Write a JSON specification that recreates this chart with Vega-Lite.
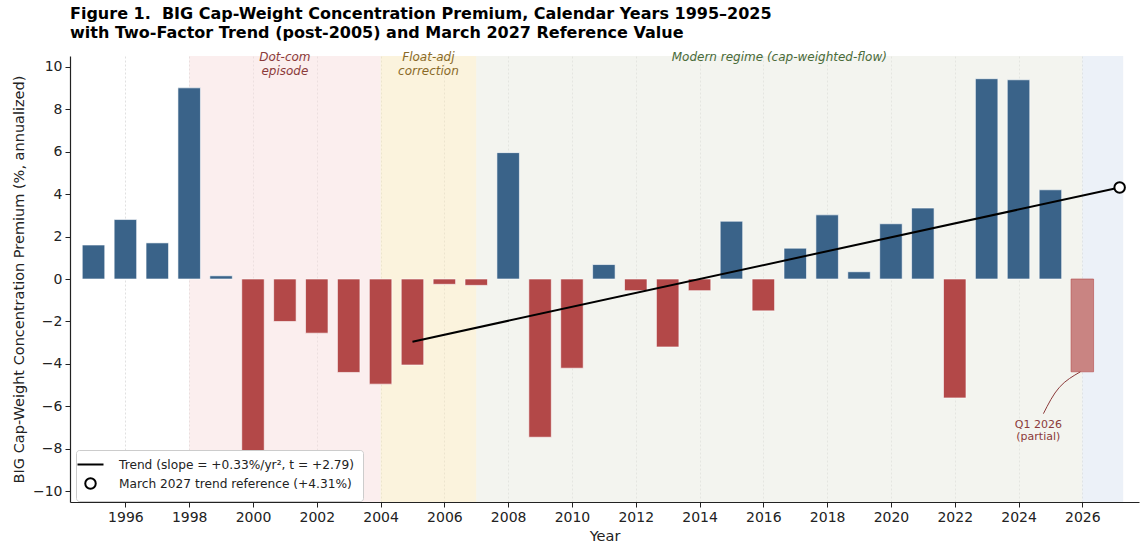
{
  "$schema": "https://vega.github.io/schema/vega-lite/v6.json",
  "width": 1069,
  "height": 446,
  "autosize": {"type": "none"},
  "padding": {"left": 70, "top": 56, "right": 9, "bottom": 53},
  "background": "white",
  "title": {
    "text": ["Figure 1.\u00a0 BIG Cap-Weight Concentration Premium, Calendar Years 1995\u20132025", "with Two-Factor Trend (post-2005) and March 2027 Reference Value"],
    "anchor": "start",
    "frame": "group",
    "font": "DejaVu Sans",
    "fontSize": 16,
    "fontWeight": "bold",
    "color": "#000000",
    "lineHeight": 19.5,
    "offset": 10
  },
  "config": {
    "view": {"stroke": null},
    "axis": {
      "labelFont": "DejaVu Sans",
      "labelFontSize": 14,
      "labelColor": "#222222",
      "titleFont": "DejaVu Sans",
      "titleFontSize": 14.5,
      "titleFontWeight": "normal",
      "titleColor": "#222222",
      "domainColor": "#222222",
      "domainWidth": 1.2,
      "tickColor": "#222222",
      "tickSize": 5,
      "gridColor": "#d8d8d8",
      "gridDash": [2, 2],
      "gridWidth": 0.8
    },
    "legend": {
      "labelFont": "DejaVu Sans",
      "labelFontSize": 12.2,
      "labelColor": "#222222",
      "labelLimit": 0
    }
  },
  "datasets": {
    "bars": [
      {"year": 1995, "value": 1.6, "partial": false},
      {"year": 1996, "value": 2.8, "partial": false},
      {"year": 1997, "value": 1.7, "partial": false},
      {"year": 1998, "value": 9.0, "partial": false},
      {"year": 1999, "value": 0.15, "partial": false},
      {"year": 2000, "value": -8.1, "partial": false},
      {"year": 2001, "value": -2.0, "partial": false},
      {"year": 2002, "value": -2.55, "partial": false},
      {"year": 2003, "value": -4.4, "partial": false},
      {"year": 2004, "value": -4.95, "partial": false},
      {"year": 2005, "value": -4.05, "partial": false},
      {"year": 2006, "value": -0.25, "partial": false},
      {"year": 2007, "value": -0.3, "partial": false},
      {"year": 2008, "value": 5.95, "partial": false},
      {"year": 2009, "value": -7.45, "partial": false},
      {"year": 2010, "value": -4.2, "partial": false},
      {"year": 2011, "value": 0.68, "partial": false},
      {"year": 2012, "value": -0.55, "partial": false},
      {"year": 2013, "value": -3.2, "partial": false},
      {"year": 2014, "value": -0.55, "partial": false},
      {"year": 2015, "value": 2.72, "partial": false},
      {"year": 2016, "value": -1.5, "partial": false},
      {"year": 2017, "value": 1.45, "partial": false},
      {"year": 2018, "value": 3.02, "partial": false},
      {"year": 2019, "value": 0.34, "partial": false},
      {"year": 2020, "value": 2.6, "partial": false},
      {"year": 2021, "value": 3.34, "partial": false},
      {"year": 2022, "value": -5.6, "partial": false},
      {"year": 2023, "value": 9.43, "partial": false},
      {"year": 2024, "value": 9.38, "partial": false},
      {"year": 2025, "value": 4.2, "partial": false},
      {"year": 2026, "value": -4.37, "partial": true}
    ],
    "regions": [
      {"name": "dotcom", "start": 1998, "end": 2004, "mid": 2001, "label": "Dot-com\nepisode"},
      {"name": "float", "start": 2004, "end": 2007, "mid": 2005.5, "label": "Float-adj\ncorrection"},
      {"name": "modern", "start": 2007, "end": 2026, "mid": 2016.5, "label": "Modern regime (cap-weighted-flow)"},
      {"name": "partial", "start": 2026, "end": 2027.28, "mid": 2026.6, "label": ""}
    ],
    "trend": [
      {"year": 2005, "value": -2.95},
      {"year": 2027.17, "value": 4.31}
    ],
    "reference": [
      {"year": 2027.17, "value": 4.31}
    ],
    "arrow": [
      {"year": 2024.78, "value": -6.34},
      {"year": 2025.28, "value": -5.1},
      {"year": 2025.94, "value": -4.37}
    ],
    "note": [
      {"year": 2024.62, "value": -6.58, "text": "Q1 2026\n(partial)"}
    ]
  },
  "encoding": {
    "x": {
      "type": "quantitative",
      "scale": {"domain": [1994.42, 2027.62], "nice": false, "zero": false},
      "axis": {
        "title": "Year",
        "values": [1996, 1998, 2000, 2002, 2004, 2006, 2008, 2010, 2012, 2014, 2016, 2018, 2020, 2022, 2024, 2026],
        "format": "d",
        "labelPadding": 3,
        "titlePadding": 5
      }
    },
    "y": {
      "type": "quantitative",
      "scale": {"domain": [-10.5, 10.5], "nice": false, "zero": false},
      "axis": {
        "title": "BIG Cap-Weight Concentration Premium (%, annualized)",
        "values": [-10, -8, -6, -4, -2, 0, 2, 4, 6, 8, 10],
        "format": "d",
        "labelPadding": 3,
        "titlePadding": 6
      }
    }
  },
  "layer": [
    {
      "data": {"name": "regions"},
      "mark": {"type": "rect", "opacity": 0.5},
      "encoding": {
        "x": {"field": "start", "type": "quantitative"},
        "x2": {"field": "end"},
        "y": {"datum": -10.5},
        "y2": {"datum": 10.5},
        "fill": {
          "field": "name",
          "type": "nominal",
          "scale": {"domain": ["dotcom", "float", "modern", "partial"], "range": ["#f7dddd", "#f7e7bb", "#e7e9df", "#d9e3f1"]},
          "legend": null
        }
      }
    },
    {
      "data": {"name": "regions"},
      "mark": {"type": "text", "font": "DejaVu Sans", "fontSize": 12, "fontStyle": "italic", "baseline": "top", "align": "center", "lineBreak": "\n", "lineHeight": 14},
      "encoding": {
        "x": {"field": "mid", "type": "quantitative"},
        "y": {"datum": 10.68},
        "text": {"field": "label"},
        "color": {
          "field": "name",
          "type": "nominal",
          "scale": {"domain": ["dotcom", "float", "modern", "partial"], "range": ["#8b3b3b", "#8a6a28", "#4a6b3a", "#555555"]},
          "legend": null
        }
      }
    },
    {
      "mark": {"type": "rule", "color": "#888888", "strokeWidth": 1.2},
      "encoding": {"y": {"datum": 0}}
    },
    {
      "data": {"name": "bars"},
      "mark": {"type": "bar", "orient": "vertical", "width": 22.5, "strokeWidth": 0.6},
      "encoding": {
        "x": {"field": "year", "type": "quantitative"},
        "y": {"field": "value", "type": "quantitative"},
        "y2": {"datum": 0},
        "fill": {
          "condition": [
            {"test": "datum.partial", "value": "#c98482"},
            {"test": "datum.value >= 0", "value": "#3a6389"}
          ],
          "value": "#b34848"
        },
        "stroke": {
          "condition": {"test": "datum.partial", "value": "#b34848"},
          "value": "white"
        }
      }
    },
    {
      "data": {"name": "trend"},
      "mark": {"type": "line", "strokeWidth": 2},
      "encoding": {
        "x": {"field": "year", "type": "quantitative"},
        "y": {"field": "value", "type": "quantitative"},
        "stroke": {
          "datum": "Trend (slope = +0.33%/yr\u00b2, t = +2.79)",
          "type": "nominal",
          "scale": {"domain": ["Trend (slope = +0.33%/yr\u00b2, t = +2.79)", "March 2027 trend reference (+4.31%)"], "range": ["black", "black"]},
          "legend": {
            "title": null,
            "orient": "none",
            "legendX": 6,
            "legendY": 394,
            "padding": 8,
            "fillColor": "white",
            "strokeColor": "#cccccc",
            "cornerRadius": 3,
            "symbolSize": 676,
            "symbolStrokeWidth": 2,
            "labelOffset": 22,
            "rowPadding": 3,
            "encode": {
              "symbols": {
                "update": {
                  "shape": {"signal": "datum.index == 0 ? 'stroke' : 'circle'"},
                  "size": {"signal": "datum.index == 0 ? 676 : 110"},
                  "fill": {"value": "white"},
                  "stroke": {"value": "black"},
                  "strokeWidth": {"value": 2},
                  "opacity": {"value": 1}
                }
              }
            }
          }
        }
      }
    },
    {
      "data": {"name": "reference"},
      "mark": {"type": "point", "shape": "circle", "size": 110, "fill": "white", "strokeWidth": 2, "opacity": 1},
      "encoding": {
        "x": {"field": "year", "type": "quantitative"},
        "y": {"field": "value", "type": "quantitative"},
        "stroke": {"datum": "March 2027 trend reference (+4.31%)", "type": "nominal"}
      }
    },
    {
      "data": {"name": "arrow"},
      "mark": {"type": "line", "color": "#8b3a3a", "strokeWidth": 1, "interpolate": "natural"},
      "encoding": {
        "x": {"field": "year", "type": "quantitative"},
        "y": {"field": "value", "type": "quantitative"}
      }
    },
    {
      "data": {"name": "note"},
      "mark": {"type": "text", "font": "DejaVu Sans", "fontSize": 11, "color": "#8b3a3a", "align": "center", "baseline": "top", "lineBreak": "\n", "lineHeight": 12.5},
      "encoding": {
        "x": {"field": "year", "type": "quantitative"},
        "y": {"field": "value", "type": "quantitative"},
        "text": {"field": "text"}
      }
    }
  ]
}
